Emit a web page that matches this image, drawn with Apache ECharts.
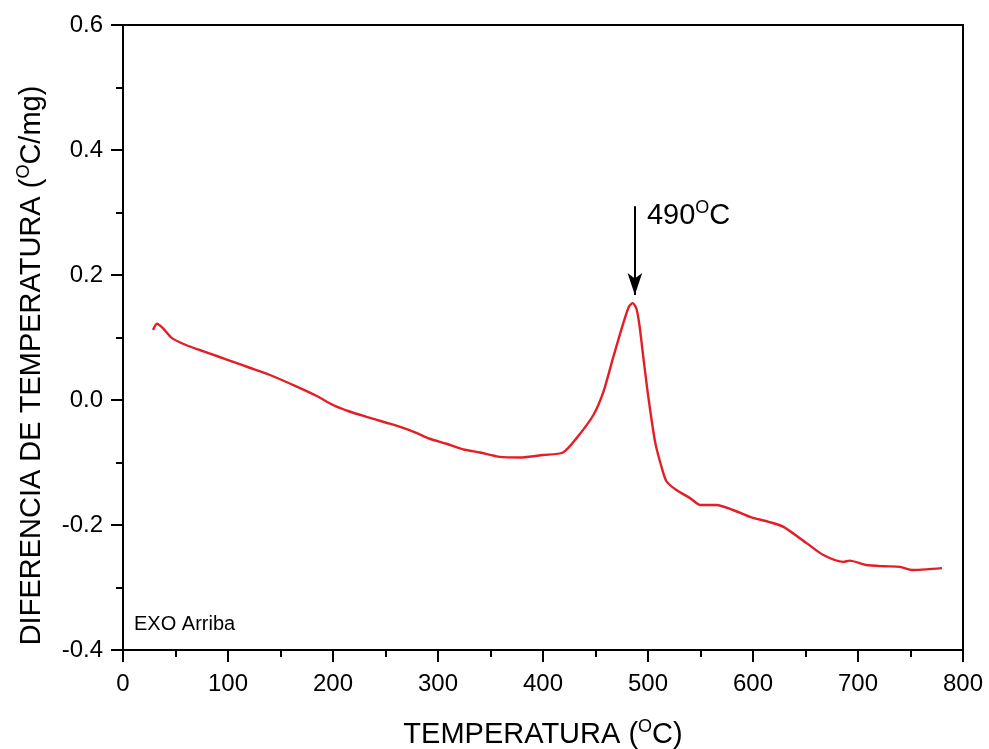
<!DOCTYPE html>
<html>
<head>
<meta charset="utf-8">
<script src="https://cdn.jsdelivr.net/npm/echarts@6/dist/echarts.min.js"></script>
<style>html,body{margin:0;padding:0;background:#fff}#c{width:989px;height:749px}</style>
</head>
<body>
<div id="c"></div>
<script>
const temperature = [28.6, 32.4, 38, 46.7, 60, 73, 90, 105, 120, 140, 166, 185, 200, 215, 232, 250, 264, 280, 292, 308, 324, 340, 359, 378, 400, 419, 432, 448, 457.5, 467, 476.5, 482, 485.5, 489, 492, 495.5, 500.3, 507, 514.6, 518, 527, 540, 550, 565, 581, 597, 615, 629, 651, 667, 686, 692, 708, 725, 740, 752, 765, 780];
const difference = [0.112, 0.122, 0.115, 0.099, 0.088, 0.080, 0.070, 0.061, 0.052, 0.040, 0.021, 0.006, -0.008, -0.018, -0.027, -0.036, -0.043, -0.053, -0.062, -0.070, -0.079, -0.084, -0.091, -0.092, -0.088, -0.084, -0.061, -0.024, 0.013, 0.069, 0.123, 0.150, 0.155, 0.146, 0.118, 0.069, 0.005, -0.069, -0.117, -0.131, -0.144, -0.157, -0.168, -0.168, -0.176, -0.187, -0.195, -0.203, -0.229, -0.248, -0.259, -0.257, -0.264, -0.266, -0.267, -0.272, -0.271, -0.269];
const xTicks = [0, 100, 200, 300, 400, 500, 600, 700, 800];
const yTicks = [-0.4, -0.2, 0.0, 0.2, 0.4, 0.6];
const peakLabel = ['490', 'O', 'C'];
const peakT = 487.5;

const chart = echarts.init(document.getElementById('c'), null, {renderer: 'canvas'});
const font = 'Liberation Sans, Arial, sans-serif';
const richTitle = {a: {fontSize: 29, fontFamily: font, color: '#000'}, s: {fontSize: 18, fontFamily: font, color: '#000', padding: [0, 0, 16, 0]}};
chart.setOption({
  animation: false,
  backgroundColor: '#fff',
  grid: {left: 123, right: 26, top: 25, bottom: 99, outerBoundsMode: 'none', containLabel: false, show: true, borderColor: '#000', borderWidth: 2, backgroundColor: 'transparent'},
  xAxis: {
    type: 'value', min: xTicks[0], max: xTicks[xTicks.length - 1], interval: 100,
    name: '{a|TEMPERATURA (}{s|O}{a|C)}', nameLocation: 'middle', nameGap: 68,
    nameTextStyle: {rich: richTitle},
    axisLine: {show: true, onZero: false, lineStyle: {color: '#000', width: 2}},
    axisTick: {show: true, inside: false, length: 12, lineStyle: {color: '#000', width: 2}},
    minorTick: {show: true, splitNumber: 2, length: 7, lineStyle: {color: '#000', width: 2}},
    axisLabel: {fontSize: 24, fontFamily: font, color: '#000', margin: 22},
    splitLine: {show: false}
  },
  yAxis: {
    type: 'value', min: yTicks[0], max: yTicks[yTicks.length - 1], interval: 0.2,
    name: '{a|DIFERENCIA DE TEMPERATURA (}{s|O}{a|C/mg)}', nameLocation: 'middle', nameGap: 74,
    nameTextStyle: {padding: [0, 0, 0, -56], rich: richTitle},
    axisLine: {show: true, onZero: false, lineStyle: {color: '#000', width: 2}},
    axisTick: {show: true, inside: false, length: 12, lineStyle: {color: '#000', width: 2}},
    minorTick: {show: true, splitNumber: 2, length: 7, lineStyle: {color: '#000', width: 2}},
    axisLabel: {fontSize: 24, fontFamily: font, color: '#000', margin: 20, formatter: v => v.toFixed(1)},
    splitLine: {show: false}
  },
  series: [{
    type: 'line',
    data: temperature.map((t, i) => [t, difference[i]]),
    showSymbol: false,
    smooth: 0.25,
    lineStyle: {color: '#e41e26', width: 2.4},
    markLine: {
      silent: true,
      symbol: ['none', 'arrow'],
      symbolSize: [11, 22],
      lineStyle: {color: '#000', width: 2, type: 'solid'},
      label: {show: false},
      data: [[{coord: [peakT, 0.31]}, {coord: [peakT, 0.168]}]]
    },
    markPoint: {
      silent: true,
      symbol: 'circle', symbolSize: 0,
      data: [{coord: [peakT, 0.295]}],
      label: {
        show: true, position: 'right', distance: 12,
        formatter: '{a|' + peakLabel[0] + '}{s|' + peakLabel[1] + '}{a|' + peakLabel[2] + '}',
        rich: richTitle
      }
    }
  }],
  graphic: [{
    type: 'text', left: 134, top: 614,
    style: {text: 'EXO Arriba', fontSize: 20, fontFamily: font, fill: '#000'}
  }]
});
</script>
</body>
</html>
